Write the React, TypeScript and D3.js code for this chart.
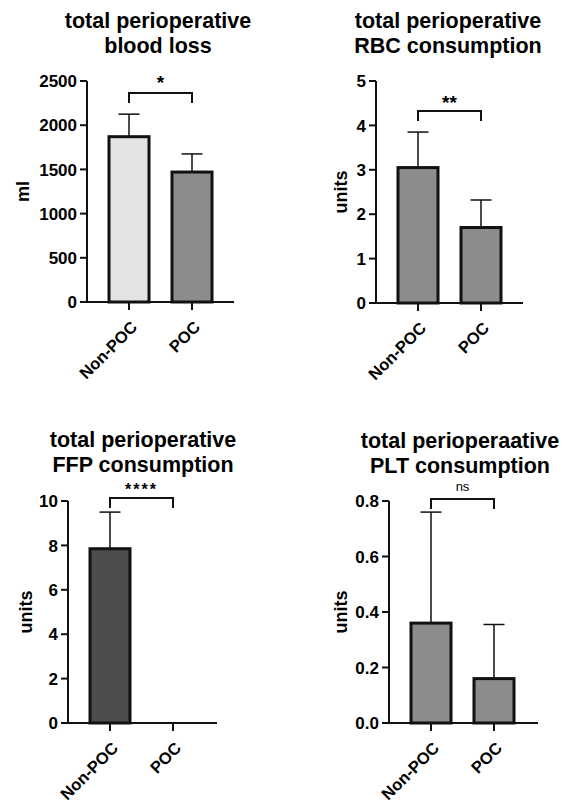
import React from "react";
import * as d3 from "d3";

const groups = ["Non-POC", "POC"];

const titles = [
  ["total perioperative", "blood loss"],
  ["total perioperative", "RBC consumption"],
  ["total perioperative", "FFP consumption"],
  ["total perioperaative", "PLT consumption"],
];
const yLabels = ["ml", "units", "units", "units"];
const significance = ["*", "**", "****", "ns"];

const bloodLossMean = [1870, 1470];
const bloodLossErr = [255, 205];
const rbcMean = [3.05, 1.7];
const rbcErr = [0.8, 0.62];
const ffpMean = [7.85, 0];
const ffpErr = [1.65, 0];
const pltMean = [0.36, 0.16];
const pltErr = [0.4, 0.195];

const yMaxes = [2500, 5, 10, 0.8];
const yTickValues = [
  [0, 500, 1000, 1500, 2000, 2500],
  [0, 1, 2, 3, 4, 5],
  [0, 2, 4, 6, 8, 10],
  [0, 0.2, 0.4, 0.6, 0.8],
];
const tickFormats = ["d", "d", "d", ".1f"];

const means = [bloodLossMean, rbcMean, ffpMean, pltMean];
const errs = [bloodLossErr, rbcErr, ffpErr, pltErr];

const barColors = [
  ["#e3e3e3", "#8c8c8c"],
  ["#8c8c8c", "#8c8c8c"],
  ["#4d4d4d", "#4d4d4d"],
  ["#8c8c8c", "#8c8c8c"],
];

// layout only
const layouts = [
  { ax: 87, top: 81, bottom: 302, xEnd: 234, titleX: 158, titleY: 28, ylx: 29, sigY: 89, brY: 93, sigSize: 19 },
  { ax: 376, top: 81, bottom: 303, xEnd: 523, titleX: 448, titleY: 28, ylx: 347, sigY: 109, brY: 111, sigSize: 19 },
  { ax: 68, top: 501, bottom: 723, xEnd: 217, titleX: 143, titleY: 447, ylx: 32, sigY: 495, brY: 498, sigSize: 16 },
  { ax: 389, top: 501, bottom: 723, xEnd: 538, titleX: 460, titleY: 448, ylx: 347, sigY: 491, brY: 499, sigSize: 13 },
];

const FONT = "'Liberation Sans', Arial, sans-serif";

function Panel({ i }: { i: number }) {
  const L = layouts[i];
  const y = d3.scaleLinear().domain([0, yMaxes[i]]).range([L.bottom, L.top]);
  const x = d3.scalePoint<string>().domain(groups).range([L.ax + 42, L.ax + 105]);
  const fmt = d3.format(tickFormats[i]);
  const barW = 40;
  const capW = 21;
  const x0 = x(groups[0])!;
  const x1 = x(groups[1])!;
  return (
    <g>
      <text x={L.titleX} y={L.titleY} textAnchor="middle" fontFamily={FONT} fontWeight="bold" fontSize={21.5}>
        {titles[i][0]}
      </text>
      <text x={L.titleX} y={L.titleY + 25} textAnchor="middle" fontFamily={FONT} fontWeight="bold" fontSize={21.5}>
        {titles[i][1]}
      </text>
      {/* bars */}
      {groups.map((g, k) => {
        const m = means[i][k];
        const e = errs[i][k];
        const cx = x(g)!;
        if (m <= 0) return null;
        return (
          <g key={g}>
            <line x1={cx} x2={cx} y1={y(m)} y2={y(m + e)} stroke="#111" strokeWidth={1.5} />
            <line x1={cx - capW / 2} x2={cx + capW / 2} y1={y(m + e)} y2={y(m + e)} stroke="#111" strokeWidth={1.5} />
            <rect x={cx - barW / 2} y={y(m)} width={barW} height={L.bottom - y(m)} fill={barColors[i][k]} stroke="#111" strokeWidth={3} />
          </g>
        );
      })}
      {/* y axis */}
      <line x1={L.ax} x2={L.ax} y1={L.top} y2={L.bottom} stroke="#111" strokeWidth={2} />
      {yTickValues[i].map((t) => (
        <g key={t}>
          <line x1={L.ax - 7} x2={L.ax} y1={y(t)} y2={y(t)} stroke="#111" strokeWidth={2} />
          <text x={L.ax - 10} y={y(t)} dy="0.36em" textAnchor="end" fontFamily={FONT} fontWeight="bold" fontSize={17}>
            {fmt(t)}
          </text>
        </g>
      ))}
      {/* x axis */}
      <line x1={L.ax} x2={L.xEnd} y1={L.bottom} y2={L.bottom} stroke="#111" strokeWidth={2} />
      {groups.map((g) => (
        <g key={g}>
          <line x1={x(g)!} x2={x(g)!} y1={L.bottom} y2={L.bottom + 8} stroke="#111" strokeWidth={2} />
          <text
            transform={`translate(${x(g)! + 1},${L.bottom + 18}) rotate(-45)`}
            textAnchor="end"
            dy="0.7em"
            fontFamily={FONT}
            fontWeight="bold"
            fontSize={16.5}
          >
            {g}
          </text>
        </g>
      ))}
      {/* y label */}
      <text
        transform={`translate(${L.ylx},${(L.top + L.bottom) / 2}) rotate(-90)`}
        textAnchor="middle"
        fontFamily={FONT}
        fontWeight="bold"
        fontSize={18}
      >
        {yLabels[i]}
      </text>
      {/* significance bracket */}
      <path d={`M${x0},${L.brY + 10}V${L.brY}H${x1}V${L.brY + 10}`} fill="none" stroke="#111" strokeWidth={2} />
      <text
        x={(x0 + x1) / 2}
        y={L.sigY}
        textAnchor="middle"
        fontFamily={FONT}
        fontWeight={significance[i] === "ns" ? "normal" : "bold"}
        fontSize={L.sigSize}
        letterSpacing={significance[i] === "****" ? 2 : 0}
      >
        {significance[i]}
      </text>
    </g>
  );
}

export default function App() {
  return (
    <svg width={565} height={800} style={{ position: "absolute", left: 0, top: 0, background: "#fff" }}>
      <rect width={565} height={800} fill="#fff" />
      {[0, 1, 2, 3].map((i) => (
        <Panel key={i} i={i} />
      ))}
    </svg>
  );
}
